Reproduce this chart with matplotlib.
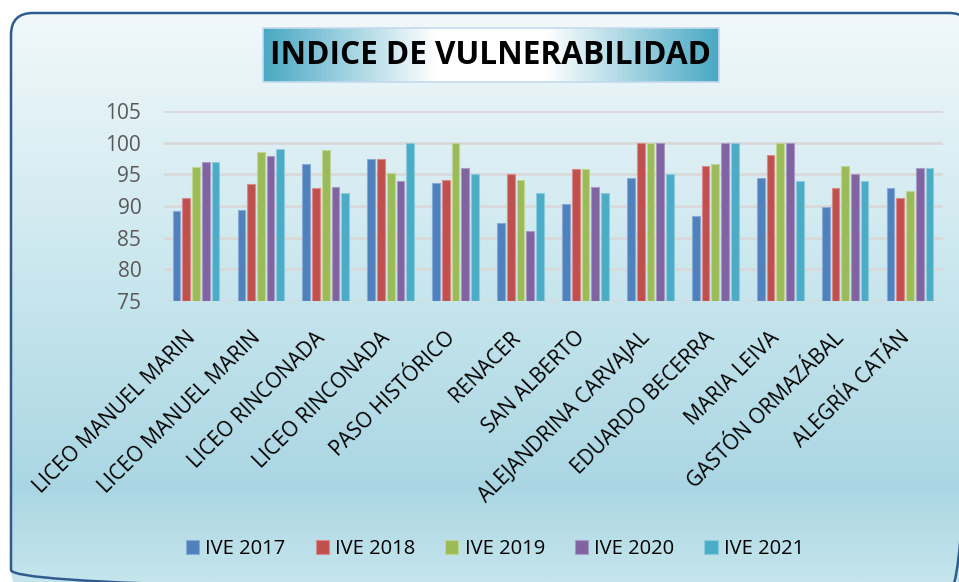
import numpy as np
import matplotlib
matplotlib.use("Agg")
from matplotlib import pyplot as plt
from matplotlib.patches import FancyBboxPatch, Rectangle
from matplotlib.colors import LinearSegmentedColormap
from matplotlib.transforms import ScaledTranslation

plt.rcParams['font.family'] = ['Open Sans', 'DejaVu Sans']

# datos
escuelas = ['LICEO MANUEL MARIN', 'LICEO MANUEL MARIN', 'LICEO RINCONADA', 'LICEO RINCONADA',
            'PASO HISTÓRICO', 'RENACER', 'SAN ALBERTO', 'ALEJANDRINA CARVAJAL',
            'EDUARDO BECERRA', 'MARIA LEIVA', 'GASTÓN ORMAZÁBAL', 'ALEGRÍA CATÁN']
series = ['IVE 2017', 'IVE 2018', 'IVE 2019', 'IVE 2020', 'IVE 2021']
ive_2017 = [89.2, 89.4, 96.6, 97.4, 93.6, 87.3, 90.3, 94.4, 88.5, 94.4, 89.8, 92.9]
ive_2018 = [91.2, 93.5, 92.9, 97.4, 94.1, 95.1, 95.9, 100, 96.3, 98.1, 92.9, 91.3]
ive_2019 = [96.1, 98.6, 98.8, 95.2, 100, 94.1, 95.9, 100, 96.7, 100, 96.3, 92.4]
ive_2020 = [97.0, 97.9, 93.0, 94.0, 96.0, 86.0, 93.0, 100, 100, 100, 95.0, 96.0]
ive_2021 = [97.0, 99.0, 92.0, 100, 95.0, 92.0, 92.0, 95.0, 100, 94.0, 94.0, 96.0]
valores = [ive_2017, ive_2018, ive_2019, ive_2020, ive_2021]
colores = ['#4f81bd', '#c0504d', '#9bbb59', '#8064a2', '#4bacc6']
bordes = ['#8aa9d6', '#d98b89', '#c0d596', '#ab98c4', '#8dcbdc']

W, H = 959, 582
fig = plt.figure(figsize=(W / 100, H / 100), dpi=100)

# fondo con degradado
bg = fig.add_axes([0, 0, 1, 1])
bg.axis('off')
marco = FancyBboxPatch((11, 13), 960, 579, boxstyle="round,pad=0,rounding_size=22",
                       fc='none', ec='#2f5b8f', lw=1.8, zorder=3)
bg.add_patch(marco)
cmap_bg = LinearSegmentedColormap.from_list('bg', [(0, '#f3f9fb'), (300 / 582, '#c6e5ed'),
                                                   (490 / 582, '#aad6e3'), (1, '#c5e5ec')])
grad = np.linspace(0, 1, 300).reshape(-1, 1)
im = bg.imshow(grad, cmap=cmap_bg, extent=[0, W, H, 0], aspect='auto', zorder=1)
im.set_clip_path(marco)

# caja del titulo
cmap_t = LinearSegmentedColormap.from_list('tt', [(0, '#4aa9c4'), (0.38, '#ffffff'),
                                                  (0.62, '#ffffff'), (1, '#4aa9c4')])
caja = Rectangle((263, 28), 456, 54, fc='none', ec='#c5d9ee', lw=1.2, zorder=5)
bg.add_patch(caja)
gt = bg.imshow(np.linspace(0, 1, 300).reshape(1, -1), cmap=cmap_t,
               extent=[263, 719, 82, 28], aspect='auto', zorder=4)
bg.text(491, 56, 'INDICE DE VULNERABILIDAD', ha='center', va='center', fontsize=22.7,
        fontweight='bold', color='black', zorder=6)
bg.set_xlim(0, W)
bg.set_ylim(H, 0)

# grafico
ax = fig.add_axes([163.5 / W, 1 - 301 / H, (942.5 - 163.5) / W, (301 - 111) / H])
ax.patch.set_alpha(0)
x = np.arange(len(escuelas))
ancho = 0.119
paso = 0.15
for i, (s, v) in enumerate(zip(series, valores)):
    ax.bar(x + (i - 2) * paso, np.array(v) - 75, ancho, bottom=75, color=colores[i],
           edgecolor=bordes[i], linewidth=0.8, label=s, zorder=3)
ax.set_xlim(-0.5, len(escuelas) - 0.5)
ax.set_ylim(75, 105)
ax.set_yticks(range(75, 106, 5))
ax.grid(axis='y', color='#d9d9d9', lw=2, zorder=0)
ax.axhline(75, color='#d9d9d9', lw=2, zorder=2)
for sp in ax.spines.values():
    sp.set_visible(False)
ax.tick_params(axis='y', length=0, pad=16, labelsize=15, labelcolor='#595959')
ax.tick_params(axis='x', length=0, pad=14)
ax.set_xticks(x)
ax.set_xticklabels(escuelas, rotation=45, ha='right', rotation_mode='anchor',
                   fontsize=15, color='black')
desp = ScaledTranslation(-8 / 72, -5 / 72, fig.dpi_scale_trans)
for lab in ax.get_xticklabels():
    lab.set_transform(lab.get_transform() + desp)

fig.legend(loc='center', bbox_to_anchor=(495 / W, 1 - 549 / H), ncol=5, frameon=False,
           fontsize=14.5, handlelength=0.65, handleheight=0.65, handletextpad=0.3,
           columnspacing=1.5)

fig.savefig('out.png', dpi=100)
